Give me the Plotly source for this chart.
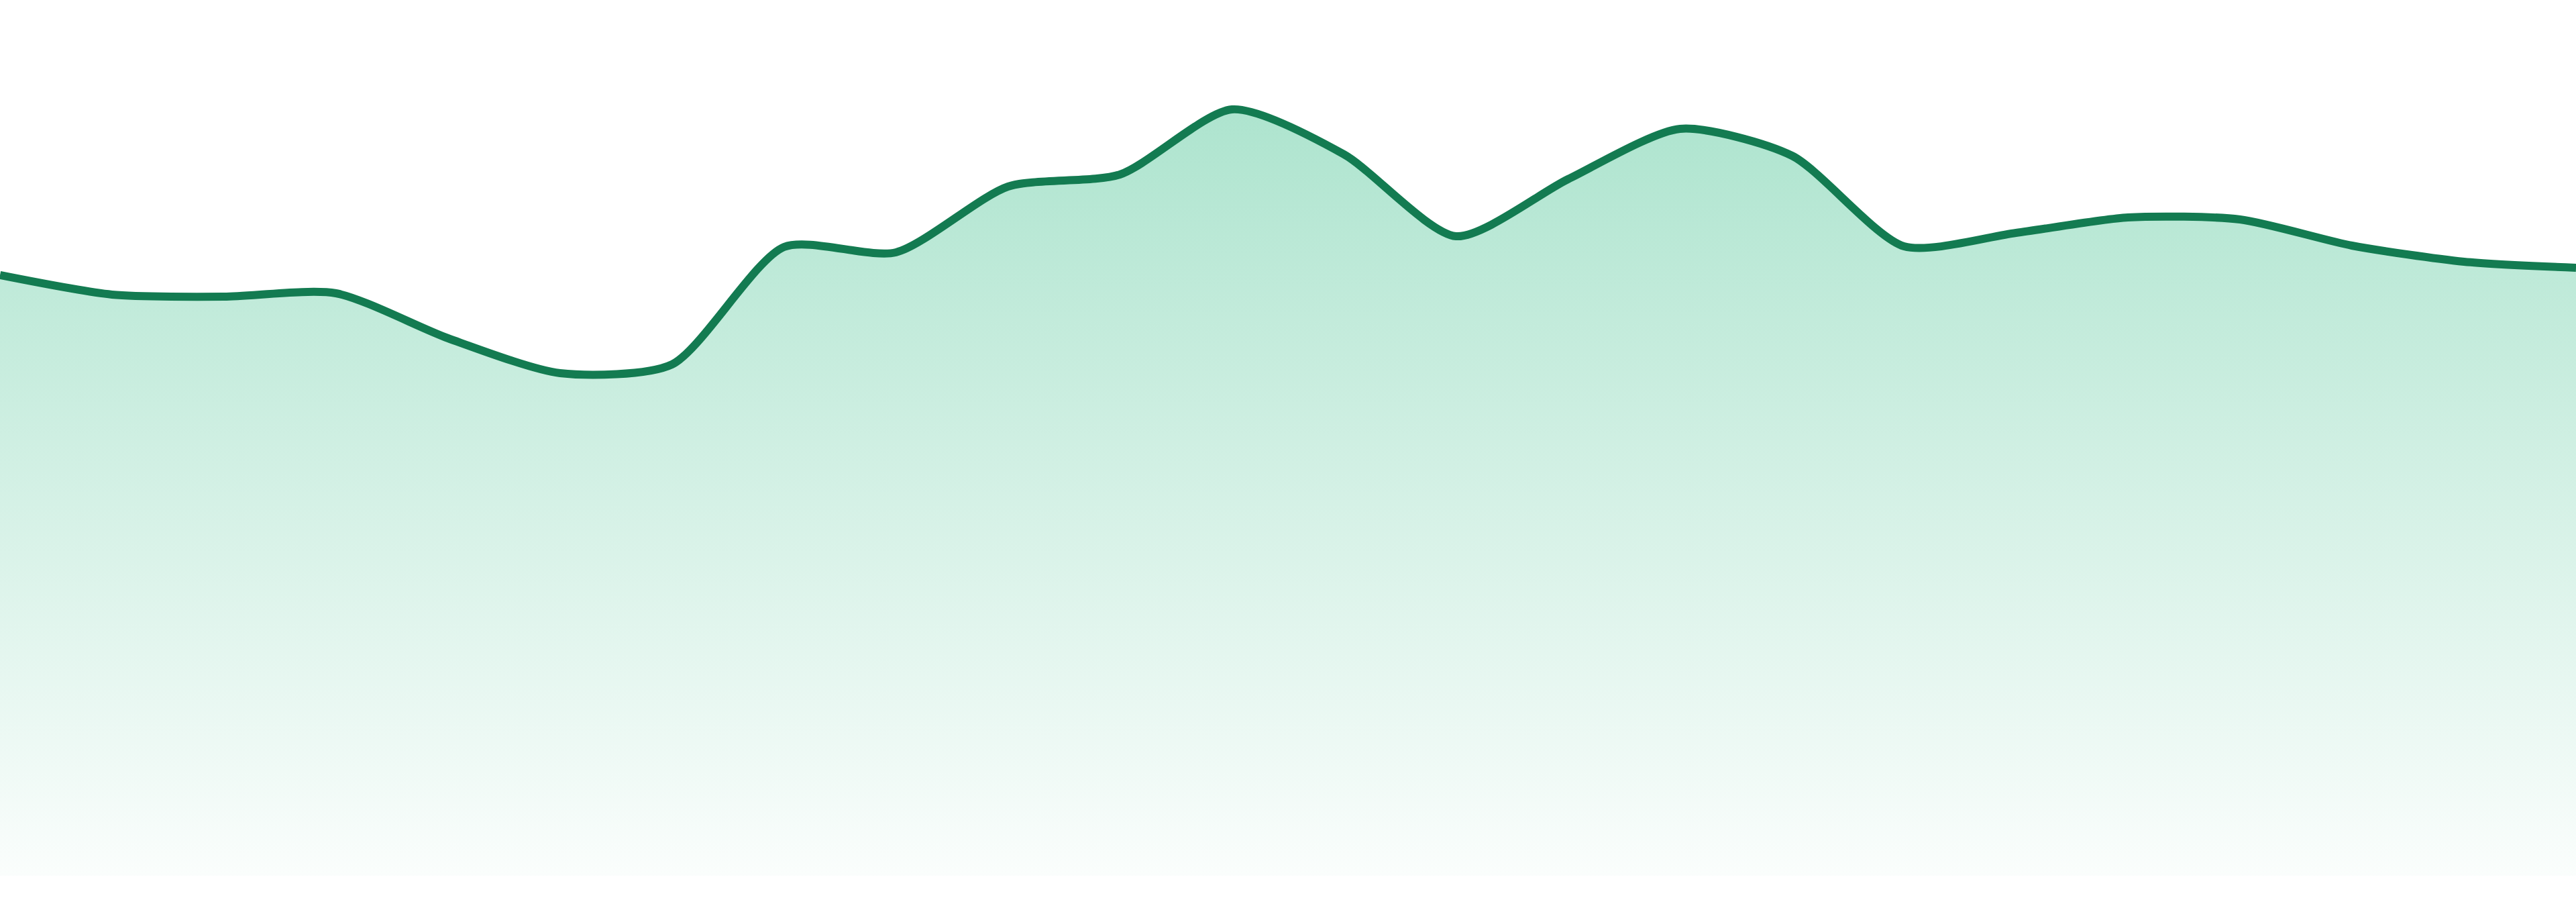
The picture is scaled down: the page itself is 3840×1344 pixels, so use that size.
import plotly.graph_objs as go

# one sample per step
steps = list(range(24))
values = [895, 866, 863, 868, 801, 749, 762, 937, 929, 1027, 1045, 1142,
          1075, 953, 1038, 1113, 1073, 938, 958, 981, 978, 939, 915, 906]

line_color = '#137B51'

trace = go.Scatter(
    x=steps,
    y=values,
    mode='lines',
    line=dict(color=line_color, width=12, shape='spline', smoothing=0.7),
    fill='tozeroy',
    fillgradient=dict(
        type='vertical',
        colorscale=[[0, 'rgba(22,178,116,0.02)'], [1, 'rgba(22,178,116,0.35)']],
    ),
    hoverinfo='skip',
    showlegend=False,
)

layout = go.Layout(
    width=3840,
    height=1344,
    autosize=False,
    margin=dict(l=0, r=0, t=0, b=39),
    paper_bgcolor='white',
    plot_bgcolor='white',
    xaxis=dict(range=[0, len(steps) - 1], visible=False, fixedrange=True),
    yaxis=dict(range=[0, 1305], visible=False, fixedrange=True),
)

fig = go.Figure(data=[trace], layout=layout)
# drop the page's default body margin so the chart sits flush with the window
fig.write_html("out.html", config={'displayModeBar': False},
               post_script="document.body.style.margin='0';")
